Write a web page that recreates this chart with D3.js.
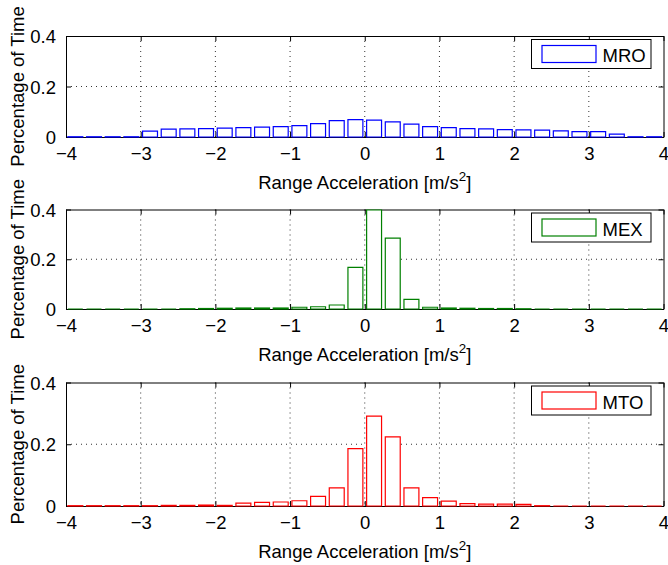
<!DOCTYPE html>
<html>
<head>
<meta charset="utf-8">
<script src="https://cdn.jsdelivr.net/npm/d3@7"></script>
<style>
  html, body { margin: 0; padding: 0; background: #fff; }
  svg { display: block; }
  text { font-family: "Liberation Sans", Arial, sans-serif; }
</style>
</head>
<body>
<svg id="chart" width="668" height="565"></svg>
<script>
// ---- Data ----
const binCenters = [-3.875,-3.625,-3.375,-3.125,-2.875,-2.625,-2.375,-2.125,-1.875,-1.625,-1.375,-1.125,-0.875,-0.625,-0.375,-0.125,
                    0.125,0.375,0.625,0.875,1.125,1.375,1.625,1.875,2.125,2.375,2.625,2.875,3.125,3.375,3.625,3.875];
const mroValues = [0.001,0.001,0.001,0.001,0.023,0.031,0.032,0.033,0.035,0.037,0.039,0.041,0.045,0.053,0.065,0.069,
                   0.067,0.060,0.051,0.041,0.037,0.033,0.032,0.029,0.028,0.027,0.024,0.021,0.021,0.011,0.001,0.001];
const mexValues = [0,0,0,0,0,0,0.001,0.002,0.003,0.004,0.004,0.004,0.007,0.009,0.016,0.167,
                   0.398,0.285,0.039,0.007,0.004,0.003,0.002,0.002,0.001,0,0,0,0,0,0,0];
const mtoValues = [0.001,0.001,0.001,0.001,0.001,0.002,0.002,0.003,0.002,0.009,0.012,0.013,0.017,0.031,0.059,0.186,
                   0.291,0.224,0.059,0.027,0.016,0.008,0.006,0.006,0.005,0.001,0,0,0,0,0,0];
const seriesNames = ["MRO", "MEX", "MTO"];
const seriesColors = ["#0000ff", "#008000", "#ff0000"];
const xTicks = [-4,-3,-2,-1,0,1,2,3,4];
const yTicks = [0, 0.2, 0.4];
const xLabel = "Range Acceleration [m/s";
const yLabel = "Percentage of Time";
const binWidth = 0.25;
const barFraction = 0.8;

// ---- Layout ----
const svg = d3.select("#chart");
const left = 66, right = 663.5;
const panels = [
  {name: seriesNames[0], values: mroValues, color: seriesColors[0], top: 36, bottom: 137},
  {name: seriesNames[1], values: mexValues, color: seriesColors[1], top: 209.5, bottom: 309},
  {name: seriesNames[2], values: mtoValues, color: seriesColors[2], top: 382.5, bottom: 506}
];
const fmtX = d => (d < 0 ? "\u2212" + Math.abs(d) : String(d));
const fmtY = d => (d === 0 ? "0" : String(d));
const FS = 18.5;

panels.forEach(p => {
  const x = d3.scaleLinear().domain([-4, 4]).range([left, right]);
  const y = d3.scaleLinear().domain([0, 0.4]).range([p.bottom, p.top]);
  const g = svg.append("g");

  g.append("rect").attr("x", left).attr("y", p.top)
    .attr("width", right - left).attr("height", p.bottom - p.top).attr("fill", "#fff");

  // grid
  const grid = g.append("g").attr("stroke", "#333").attr("stroke-width", 1)
    .attr("stroke-dasharray", "1,4").attr("fill", "none");
  xTicks.slice(1, -1).forEach(t => {
    grid.append("line").attr("x1", x(t)).attr("x2", x(t)).attr("y1", p.top).attr("y2", p.bottom);
  });
  yTicks.slice(1, -1).forEach(t => {
    grid.append("line").attr("x1", left).attr("x2", right).attr("y1", y(t)).attr("y2", y(t));
  });

  // axes (ticks inward)
  const tl = 5;
  const axB = d3.axisBottom(x).tickValues(xTicks).tickFormat(fmtX).tickSizeInner(-tl).tickSizeOuter(0).tickPadding(10);
  const axT = d3.axisTop(x).tickValues(xTicks).tickFormat("").tickSizeInner(-tl).tickSizeOuter(0);
  const axL = d3.axisLeft(y).tickValues(yTicks).tickFormat(fmtY).tickSizeInner(-tl).tickSizeOuter(0).tickPadding(10);
  const axR = d3.axisRight(y).tickValues(yTicks).tickFormat("").tickSizeInner(-tl).tickSizeOuter(0);

  const gB = g.append("g").attr("transform", `translate(0,${p.bottom})`).call(axB);
  const gT = g.append("g").attr("transform", `translate(0,${p.top})`).call(axT);
  const gL = g.append("g").attr("transform", `translate(${left},0)`).call(axL);
  const gR = g.append("g").attr("transform", `translate(${right},0)`).call(axR);
  [gB, gT, gL, gR].forEach(a => {
    a.selectAll("path.domain").attr("stroke", "#000").attr("stroke-width", 1);
    a.selectAll(".tick line").attr("stroke", "#000");
    a.selectAll("text").attr("font-size", FS).attr("fill", "#000")
      .style("font-family", '"Liberation Sans", Arial, sans-serif');
  });
  gB.selectAll(".tick text").attr("dy", "0.71em");
  gL.selectAll(".tick text").attr("dy", "0.36em");

  // bars (paths so zero-height bars still stroke)
  const half = binWidth * barFraction / 2;
  g.append("g").selectAll("path").data(binCenters.map((c, i) => ({c, v: p.values[i]})))
    .join("path")
    .attr("d", d => {
      const x0 = x(d.c - half), x1 = x(d.c + half), y0 = y(0), y1 = y(d.v);
      return `M${x0},${y0}V${y1}H${x1}V${y0}Z`;
    })
    .attr("fill", "#fff").attr("stroke", p.color).attr("stroke-width", 1.2);

  // legend
  const lx = 531.5, ly = p.top + 3.5, lw = 119.5, lh = 29;
  const lg = g.append("g");
  lg.append("rect").attr("x", lx).attr("y", ly).attr("width", lw).attr("height", lh)
    .attr("fill", "#fff").attr("stroke", "#000").attr("stroke-width", 1);
  lg.append("rect").attr("x", lx + 10.5).attr("y", ly + 6).attr("width", 54).attr("height", 17)
    .attr("fill", "#fff").attr("stroke", p.color).attr("stroke-width", 1.2);
  lg.append("text").attr("x", lx + 71).attr("y", ly + 22.5).attr("font-size", FS)
    .attr("fill", "#000").text(p.name);

  // x label
  const xl = g.append("text").attr("x", (left + right) / 2).attr("y", p.bottom + 52)
    .attr("text-anchor", "middle").attr("font-size", FS).attr("fill", "#000");
  xl.append("tspan").text(xLabel);
  xl.append("tspan").attr("dy", -8).attr("font-size", FS * 0.72).text("2");
  xl.append("tspan").attr("dy", 8).text("]");

  // y label
  g.append("text").attr("transform", `translate(24,${(p.top + p.bottom) / 2}) rotate(-90)`)
    .attr("text-anchor", "middle").attr("font-size", FS).attr("fill", "#000").text(yLabel);
});
</script>
</body>
</html>
